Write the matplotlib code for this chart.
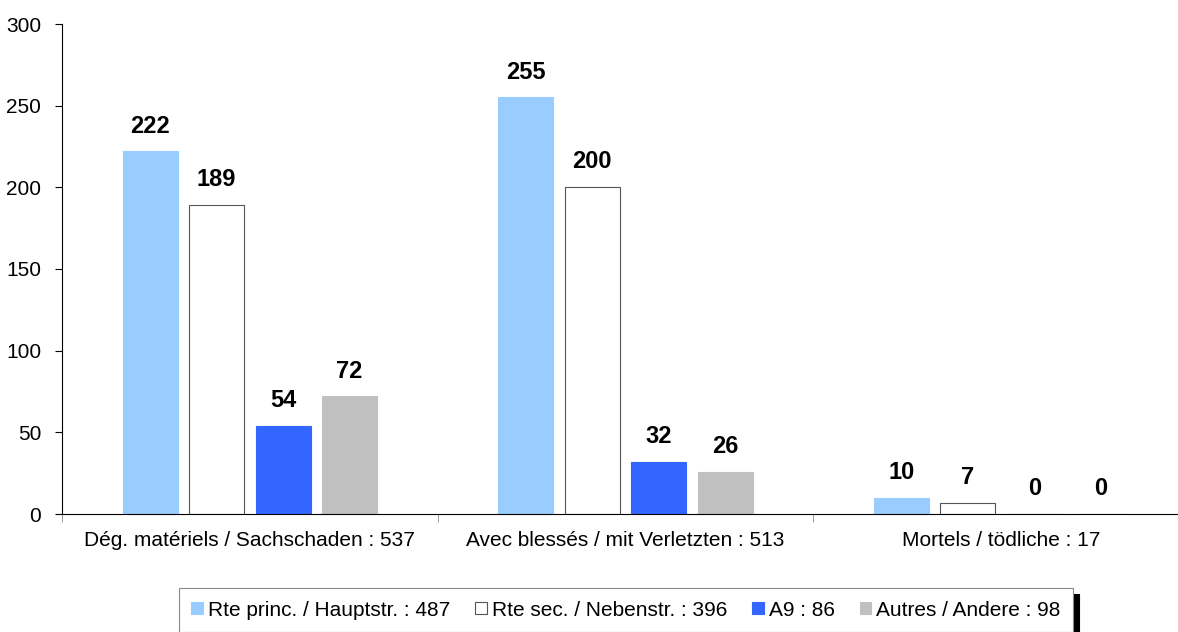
import matplotlib
matplotlib.use("Agg")
from matplotlib import pyplot as plt
import numpy as np

categories = ["Dég. matériels / Sachschaden : 537",
              "Avec blessés / mit Verletzten : 513",
              "Mortels / tödliche : 17"]
series_names = ["Rte princ. / Hauptstr. : 487",
                "Rte sec. / Nebenstr. : 396",
                "A9 : 86",
                "Autres / Andere : 98"]
rte_princ = [222, 255, 10]
rte_sec = [189, 200, 7]
a9 = [54, 32, 0]
autres = [72, 26, 0]
y_ticks = [0, 50, 100, 150, 200, 250, 300]

colors = ["#99CCFF", "#FFFFFF", "#3366FF", "#C0C0C0"]
edges = ["#99CCFF", "#555555", "#3366FF", "#C0C0C0"]

plt.rcParams['font.family'] = ['Liberation Sans', 'DejaVu Sans']

fig = plt.figure(figsize=(11.78, 6.32), dpi=100)
ax = fig.add_axes([62 / 1178, 1 - 514 / 632, (1189 - 62) / 1178, 490 / 632])

x = np.arange(len(categories))
step = 0.177
width = 0.146
all_series = [rte_princ, rte_sec, a9, autres]
for i, vals in enumerate(all_series):
    pos = x + (i - 1.5) * step
    bars = ax.bar(pos, vals, width, color=colors[i], edgecolor=edges[i],
                  linewidth=0.8, label=series_names[i])
    for b, v in zip(bars, vals):
        ax.annotate(str(v), (b.get_x() + b.get_width() / 2, v), xytext=(0, 10),
                    textcoords="offset points", ha="center", va="bottom",
                    fontsize=17, fontweight="bold")

ax.set_xlim(-0.5, 2.5)
ax.set_ylim(0, 300)
ax.set_yticks(y_ticks)
ax.tick_params(axis="y", labelsize=15, length=5, pad=10, direction="out")
ax.set_xticks(x)
ax.set_xticklabels(categories, fontsize=15)
ax.tick_params(axis="x", length=0, pad=12)
ax.set_xticks([-0.5, 0.5, 1.5, 2.5], minor=True)
ax.tick_params(axis="x", which="minor", length=6, color="#888888")
ax.spines["top"].set_visible(False)
ax.spines["right"].set_visible(False)

leg = fig.legend(loc="upper center", bbox_to_anchor=(626 / 1178, 1 - 588 / 632),
                 ncol=4, fontsize=15, handlelength=0.55, handleheight=0.55,
                 handletextpad=0.25, columnspacing=1.2, fancybox=False,
                 edgecolor="#888888", borderpad=0.6, borderaxespad=0,
                 shadow=dict(color="black", alpha=1, ox=4, oy=-4))
leg.get_frame().set_linewidth(0.8)

plt.savefig("out.png", dpi=100)
